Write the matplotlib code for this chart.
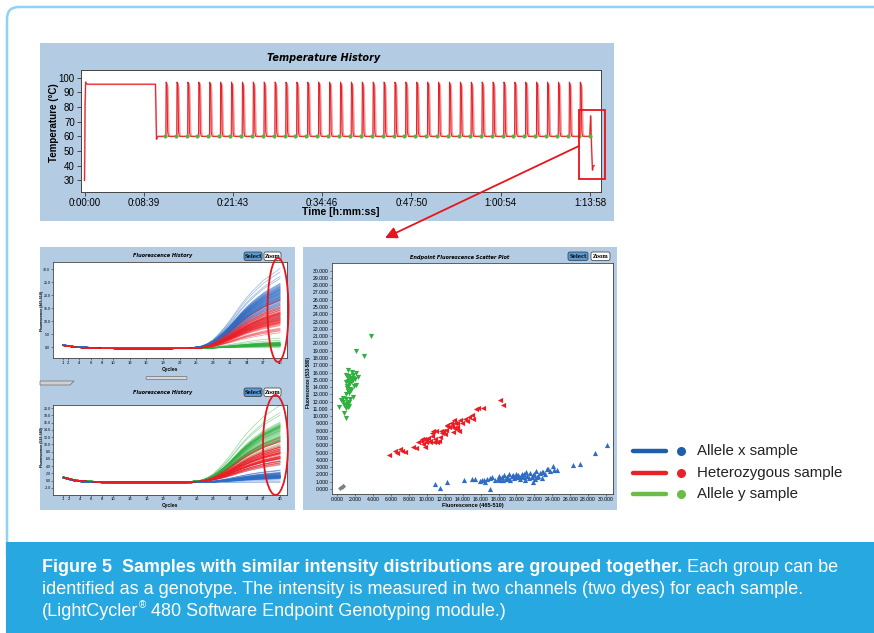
import matplotlib
matplotlib.use("Agg")
import matplotlib.pyplot as plt
import numpy as np
from matplotlib.patches import FancyBboxPatch, Rectangle, Ellipse, FancyArrowPatch, Polygon

plt.rcParams['font.family'] = ['Liberation Sans', 'DejaVu Sans']

W, H, DPI = 874, 633, 100

# ---------------- data ----------------
# Temperature protocol (seconds, deg C)
pre_t = [0, 2, 5, 10, 20, 623, 632, 645, 704]
pre_T = [30, 47, 82, 97, 95.5, 95.5, 58, 60, 60]
n_cycles = 40
cycle_start_s = 704
cycle_period_s = 95.7
cyc_off_dark = [0, 10, 12, 20, 26, 33]
cyc_T_dark = [60, 60, 97, 95, 63, 60]
cyc_off_pink = [0, 14, 19, 27, 36, 46]
cyc_T_pink = [60, 60, 96, 93, 62, 60]
end_off = [0, 8, 12, 18, 24, 30, 38]
end_T = [60, 74, 62, 48, 37, 40, 40]
acq_temp = 60
time_ticks_s = [0, 519, 1303, 2086, 2870, 3654, 4438]
time_tick_labels = ['0:00:00', '0:08:39', '0:21:43', '0:34:46', '0:47:50', '1:00:54', '1:13:58']

# Endpoint fluorescence per sample: x = 465-510 channel, y = 533-580 channel
green_x = [3.76, 2.09, 2.94, 1.16, 1.60, 2.09, 2.35, 0.94, 1.23, 1.40, 1.79, 0.97, 1.35, 1.90, 1.12, 1.40,
           1.16, 0.96, 1.79, 1.40, 0.67, 0.41, 0.60, 1.23, 1.05, 0.78, 0.17, 1.16, 0.78, 0.94, 1.30, 1.50,
           1.70, 1.20, 1.45, 1.60, 1.80, 2.00, 1.10, 1.30, 1.55, 2.05, 1.00, 1.25, 1.35, 0.95, 1.10]
green_y = [21.0, 19.0, 18.3, 16.4, 16.1, 15.9, 15.4, 15.7, 15.2, 15.0, 15.0, 14.7, 14.4, 14.1, 14.1, 13.8,
           13.4, 13.0, 12.7, 12.4, 12.5, 12.2, 12.0, 11.8, 11.5, 11.6, 11.2, 11.2, 10.4, 9.8, 15.5, 15.3,
           15.6, 14.9, 14.6, 14.8, 15.2, 15.1, 13.9, 13.2, 13.6, 14.3, 12.3, 12.0, 11.4, 11.1, 11.7]
red_x = [5.77, 6.44, 6.70, 7.00, 7.26, 7.56, 8.50, 8.79, 9.05, 9.30, 9.40, 9.67, 9.90, 9.60, 9.80, 10.30,
         10.55, 10.70, 10.55, 10.90, 11.10, 11.46, 11.65, 11.54, 11.84, 12.14, 12.30, 12.50, 12.77, 12.96,
         13.04, 13.15, 13.04, 13.33, 13.40, 13.33, 13.70, 13.90, 14.26, 14.45, 14.70, 15.00, 15.10, 15.45,
         15.74, 16.23, 18.20, 18.50, 10.10, 10.40, 11.30, 12.00, 12.70, 13.60, 12.20, 11.00, 9.90, 10.80]
red_y = [4.6, 5.2, 4.9, 5.5, 5.2, 5.1, 5.7, 5.6, 6.4, 6.6, 6.9, 6.9, 6.7, 6.2, 5.7, 6.4, 7.3, 8.0, 7.7, 6.9,
         6.4, 7.1, 7.7, 8.0, 7.9, 8.1, 8.7, 8.5, 8.6, 7.8, 8.4, 9.0, 9.5, 8.5, 8.2, 9.1, 9.5, 9.1, 9.6, 9.4,
         9.9, 10.2, 9.6, 11.0, 11.1, 11.1, 12.2, 11.5, 7.0, 6.6, 6.6, 7.6, 9.0, 8.0, 8.8, 7.9, 6.4, 6.5]
blue_x = [10.95, 11.46, 12.30, 14.15, 15.00, 15.40, 17.05, 15.90, 16.10, 16.40, 16.70, 17.00, 17.30, 16.50,
          17.90, 18.00, 18.20, 18.40, 18.60, 18.80, 19.00, 19.20, 19.30, 19.50, 19.70, 19.90, 20.00, 20.20,
          20.40, 20.60, 20.80, 21.00, 21.20, 21.50, 21.70, 21.90, 22.00, 22.20, 22.40, 22.60, 22.80, 23.00,
          23.20, 23.40, 23.50, 24.05, 24.20, 24.50, 26.30, 27.10, 28.80, 30.15, 18.10, 18.50, 19.10, 19.60,
          20.30, 20.90, 21.40, 21.80, 22.30, 22.90, 17.60, 18.90, 20.50, 21.10, 22.10, 23.80]
blue_y = [0.65, 0.19, 1.00, 1.30, 1.35, 1.40, 0.00, 1.10, 1.30, 1.20, 1.40, 1.50, 1.60, 1.00, 1.40, 1.80,
          1.20, 1.60, 1.90, 1.40, 1.70, 2.00, 1.30, 1.80, 1.50, 2.10, 1.60, 1.90, 1.40, 2.00, 1.70, 1.30,
          1.80, 2.20, 1.60, 1.00, 2.00, 2.50, 1.80, 2.20, 1.50, 2.40, 2.00, 2.80, 2.70, 3.20, 2.60, 2.60,
          3.30, 3.40, 4.95, 6.05, 1.50, 1.30, 1.50, 1.90, 1.70, 2.10, 1.50, 1.90, 1.70, 2.30, 1.30, 1.60,
          1.80, 2.40, 1.40, 2.50]
ntc_x = [0.35, 0.48, 0.58, 0.68]
ntc_y = [0.18, 0.28, 0.38, 0.46]

# Amplification history (cycles 1..40)
cycles = list(range(1, 41))
amp_shape = [0, 0, 0, 0, 0, 0, 0, 0, 0, 0, 0, 0, 0, 0, 0, 0, 0, 0, 0, 0, 0, 0, 0, 0.003, 0.008,
             0.022, 0.052, 0.10, 0.17, 0.25, 0.34, 0.44, 0.54, 0.63, 0.71, 0.78, 0.85, 0.90, 0.95, 1.0]
base_ch1 = [0.8, 0.5, 0.2, 0.0, -0.1, -0.2, -0.25, -0.3, -0.35, -0.4, -0.45, -0.5, -0.5, -0.5, -0.5,
            -0.5, -0.5, -0.5, -0.45, -0.45, -0.4, -0.4, -0.35, -0.3, -0.3, -0.25, -0.2, -0.2, -0.15,
            -0.1, -0.1, -0.1, -0.1, -0.1, -0.1, -0.1, -0.1, -0.1, -0.1, -0.1]
base_ch2 = [1.0, 0.6, 0.2, 0.0, -0.1, -0.2, -0.25, -0.3, -0.3, -0.35, -0.35, -0.35, -0.35, -0.35,
            -0.35, -0.35, -0.35, -0.35, -0.35, -0.35, -0.35, -0.3, -0.3, -0.3, -0.25, -0.25, -0.2,
            -0.2, -0.2, -0.2, -0.2, -0.2, -0.2, -0.2, -0.2, -0.2, -0.2, -0.2, -0.2, -0.2]
hist_xticks = [1, 2, 4, 6, 8, 10, 13, 16, 19, 22, 25, 28, 31, 34, 37, 40]

legend_labels = ['Allele x sample', 'Heterozygous sample', 'Allele y sample']
caption_bold = "Figure 5  Samples with similar intensity distributions are grouped together."
caption_rest1 = " Each group can be"
caption_line2 = "identified as a genotype. The intensity is measured in two channels (two dyes) for each sample."
caption_line3a = "(LightCycler"
caption_line3b = " 480 Software Endpoint Genotyping module.)"

# ---------------- style ----------------
PANEL = '#b4cce3'
BORDER = '#8fd3f0'
BAND = '#27a8e0'
C_BLUE, C_RED, C_GREEN = '#2f6cc4', '#ec1c24', '#2fb040'
L_BLUE, L_RED, L_GREEN = '#1d5fae', '#e52329', '#6cbd45'
TITLE_FONT = dict(family='DejaVu Sans', fontweight='bold', fontstyle='italic')

fig = plt.figure(figsize=(W / DPI, H / DPI), dpi=DPI, facecolor='white')


def pax(x0, y0, x1, y1, z=2):
    return fig.add_axes([x0 / W, 1 - y1 / H, (x1 - x0) / W, (y1 - y0) / H], zorder=z)


bg = fig.add_axes([0, 0, 1, 1], zorder=0)
bg.set_xlim(0, W); bg.set_ylim(H, 0); bg.axis('off')
top = fig.add_axes([0, 0, 1, 1], zorder=10)
top.set_xlim(0, W); top.set_ylim(H, 0); top.axis('off')

# frame, caption band, panels
bg.add_patch(FancyBboxPatch((7, 7), 900, 560, boxstyle='round,pad=0,rounding_size=12',
                            fill=False, ec=BORDER, lw=1.8))
bg.add_patch(Rectangle((6, 542), 870, 95, fc=BAND, ec='none', zorder=2))
bg.add_patch(Rectangle((40, 43), 574, 178, fc=PANEL, ec='none'))
bg.add_patch(Rectangle((40, 247), 255, 263, fc=PANEL, ec='none'))
bg.add_patch(Rectangle((303, 247), 314, 263, fc=PANEL, ec='none'))


def button(x0, y0, x1, y1, label, fill):
    bg.add_patch(FancyBboxPatch((x0, y0), x1 - x0, y1 - y0, boxstyle='round,pad=0,rounding_size=2',
                                fc=fill, ec='#333', lw=0.5, zorder=3))
    bg.text((x0 + x1) / 2, (y0 + y1) / 2 + 0.3, label, fontsize=3.6, fontweight='bold',
            family='DejaVu Serif', ha='center', va='center', zorder=4)


# ---------------- temperature history ----------------
ax = pax(81, 70, 601, 192)
t_d, T_d, t_p, T_p = list(pre_t), list(pre_T), list(pre_t), list(pre_T)
acq_t = []
for i in range(n_cycles):
    s = cycle_start_s + i * cycle_period_s
    acq_t.append(s)
    if i < n_cycles - 1:
        t_d += [s + o for o in cyc_off_dark]; T_d += cyc_T_dark
        t_p += [s + o for o in cyc_off_pink]; T_p += cyc_T_pink
    else:
        t_d += [s + o for o in end_off]; T_d += end_T
        t_p += [s + o for o in end_off]; T_p += end_T
ax.plot(t_p, T_p, color='#f5a0a0', lw=1.3, zorder=2)
ax.plot(t_d, T_d, color='#e41e26', lw=0.7, zorder=3)
ax.plot(acq_t, [acq_temp] * len(acq_t), 'o', color='#4cbb3c', ms=3.0, mec='none', zorder=4)
ax.set_xlim(-31, 4535); ax.set_ylim(22.1, 105.2)
ax.set_yticks(range(30, 101, 10))
ax.set_xticks(time_ticks_s); ax.set_xticklabels(time_tick_labels)
ax.tick_params(labelsize=7, length=3, width=0.6, pad=1.5, color='#333')
for sp in ax.spines.values():
    sp.set_linewidth(0.7); sp.set_color('#444')
bg.text(324, 58, 'Temperature History', fontsize=7, ha='center', va='center', **TITLE_FONT)
bg.text(54, 123, 'Temperature (°C)', fontsize=7, fontweight='bold', rotation=90, ha='center', va='center')
bg.text(341, 212, 'Time [h:mm:ss]', fontsize=7.5, fontweight='bold', ha='center', va='center')

# ---------------- fluorescence history panels ----------------
groups_ch1 = [(blue_x, C_BLUE, 0.15), (green_x, C_GREEN, -0.1), (red_x, C_RED, -0.1)]
groups_ch2 = [(blue_y, C_BLUE, -0.3), (green_y, C_GREEN, 0.0), (red_y, C_RED, -0.1)]
shape = np.array(amp_shape)


def history(box, groups, base, ylim, yticks):
    a = pax(*box)
    b = np.array(base)
    for ends, col, off in groups:
        for e in ends:
            a.plot(cycles, b + off + e * shape, color=col, lw=0.5, alpha=0.5)
    a.set_xlim(-0.8, 41.3); a.set_ylim(*ylim)
    a.set_xticks(hist_xticks)
    a.set_yticks(yticks); a.set_yticklabels(['%.1f' % v for v in yticks])
    a.tick_params(axis='x', labelsize=3.0, length=1.2, width=0.4, pad=0.6, color='#333')
    a.tick_params(axis='y', labelsize=2.6, length=1.2, width=0.4, pad=0.5, color='#333')
    for sp in a.spines.values():
        sp.set_linewidth(0.6); sp.set_color('#444')
    return a


history((52.7, 261.7, 287.3, 358.3), groups_ch1, base_ch1, (-4.2, 32.8), list(range(0, 31, 5)))
history((53.3, 405, 287.3, 495), groups_ch2, base_ch2, (-4.0, 20.9), list(range(-2, 21, 2)))
for yt, yb, lab, yc in [(255.7, 370, 'Fluorescence (465-510)', 311), (392.7, 505.5, 'Fluorescence (533-580)', 447)]:
    bg.text(163, yt, 'Fluorescence History', fontsize=3.6, ha='center', va='center', **TITLE_FONT)
    bg.text(170, yb, 'Cycles', fontsize=3.6, fontweight='bold', ha='center', va='center')
    bg.text(41.8, yc, lab, fontsize=2.6, fontweight='bold', rotation=90, ha='center', va='center')
button(244, 252, 262, 260.5, 'Select', '#5b9bd5')
button(264, 252, 281, 260.5, 'Zoom', 'white')
button(244, 388, 262, 396.5, 'Select', '#5b9bd5')
button(264, 388, 281, 396.5, 'Zoom', 'white')
bg.add_patch(FancyBboxPatch((146, 376.5), 41, 3.2, boxstyle='round,pad=0,rounding_size=1.2',
                            fc='#d9d9d9', ec='#555', lw=0.4))
bg.add_patch(Polygon([(40, 381), (74, 381), (70, 385), (40, 385)], closed=True,
                     fc='#d0d0d0', ec='#555', lw=0.4))

# ---------------- scatter plot ----------------
sc = pax(331.7, 263.3, 612.7, 494.3)
sc.scatter(green_x, green_y, marker='v', s=14, color=C_GREEN, linewidths=0)
sc.scatter(red_x, red_y, marker='<', s=14, color=C_RED, linewidths=0)
sc.scatter(blue_x, blue_y, marker='^', s=14, color=C_BLUE, linewidths=0)
sc.scatter(ntc_x, ntc_y, marker='D', s=6, color='#808080', linewidths=0)
sc.set_xlim(-0.63, 30.75); sc.set_ylim(-0.73, 31.0)
sc.set_xticks(range(0, 31, 2)); sc.set_xticklabels(['%.3f' % v for v in range(0, 31, 2)])
sc.set_yticks(range(0, 31)); sc.set_yticklabels(['%.3f' % v for v in range(0, 31)])
sc.tick_params(labelsize=3.7, length=1.5, width=0.4, pad=0.8, color='#333')
for sp in sc.spines.values():
    sp.set_linewidth(0.6); sp.set_color('#444')
bg.text(460, 257, 'Endpoint Fluorescence Scatter Plot', fontsize=3.6, ha='center', va='center', **TITLE_FONT)
bg.text(472.7, 505.5, 'Fluorescence (465-510)', fontsize=4.0, fontweight='bold', ha='center', va='center')
bg.text(308.5, 383, 'Fluorescence (533-580)', fontsize=3.3, fontweight='bold', rotation=90,
        ha='center', va='center')
button(568, 252, 588, 260.5, 'Select', '#5b9bd5')
button(591, 252, 610, 260.5, 'Zoom', 'white')

# ---------------- highlight overlays ----------------
for cx, cy, w, h in [(278, 310, 21, 104), (275.5, 445, 25, 100)]:
    top.add_patch(Ellipse((cx, cy), w, h, fill=False, ec='#e8141c', lw=1.3))
top.add_patch(Rectangle((579, 110), 26, 69, fill=False, ec='#e8141c', lw=1.3))
top.add_patch(FancyArrowPatch((579, 146), (385, 238), arrowstyle='-|>,head_length=7,head_width=3.5',
                              color='#e8141c', lw=1.3, mutation_scale=1, shrinkA=0, shrinkB=0))

# ---------------- legend ----------------
for (lab, col), y in zip(zip(legend_labels, [L_BLUE, L_RED, L_GREEN]), [451, 472.5, 494]):
    bg.plot([633, 666], [y, y], color=col, lw=3.2, solid_capstyle='round')
    bg.plot([681], [y], 'o', color=col, ms=6.5, mec='none')
    bg.text(697, y, lab, fontsize=10.8, color='#222', ha='left', va='center')

# ---------------- caption ----------------
renderer = fig.canvas.get_renderer()
CAP = 'Liberation Sans'


def measure(s, size, weight='normal'):
    t = fig.text(0, 0, s, fontsize=size, fontweight=weight, family=CAP)
    w = t.get_window_extent(renderer).width
    t.remove()
    return w


size_b = 10 * 641 / measure(caption_bold, 10, 'bold')
size_r = 10 * 764 / measure(caption_line2, 10)
tb = bg.text(42, 571.5, caption_bold, fontsize=size_b, fontweight='bold', family=CAP, color='white',
             va='baseline', zorder=5)
x_end = tb.get_window_extent(renderer).x1
bg.text(x_end, 571.5, caption_rest1, fontsize=size_r, family=CAP, color='white', va='baseline', zorder=5)
bg.text(42, 593.5, caption_line2, fontsize=size_r, family=CAP, color='white', va='baseline', zorder=5)
t3 = bg.text(42, 615.5, caption_line3a, fontsize=size_r, family=CAP, color='white', va='baseline', zorder=5)
x3 = t3.get_window_extent(renderer).x1
t4 = bg.text(x3 + 0.5, 608.5, '®', fontsize=size_r * 0.55, family=CAP, color='white', va='baseline', zorder=5)
x4 = t4.get_window_extent(renderer).x1
bg.text(x4, 615.5, caption_line3b, fontsize=size_r, family=CAP, color='white', va='baseline', zorder=5)

fig.savefig('out.png', dpi=DPI, facecolor='white')
